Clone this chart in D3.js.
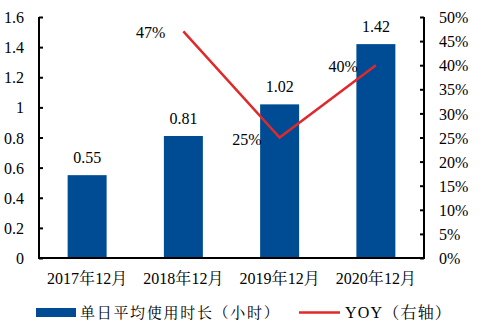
<!DOCTYPE html>
<html><head><meta charset="utf-8">
<script src="https://cdn.jsdelivr.net/npm/d3@7"></script>
<style>body{margin:0;background:#fff}svg{display:block}</style>
</head><body>
<script>
const categories = ["2017年12月","2018年12月","2019年12月","2020年12月"];
const hours = [0.55, 0.81, 1.02, 1.42];
const yoy = [null, 0.47, 0.25, 0.40];
const yoyLabels = ["", "47%", "25%", "40%"];
const leftTicks = [0,0.2,0.4,0.6,0.8,1,1.2,1.4,1.6];
const rightTicks = [0,0.05,0.1,0.15,0.2,0.25,0.3,0.35,0.4,0.45,0.5];
const seriesNames = ["单日平均使用时长（小时）","YOY（右轴）"];

const SERIF="'Liberation Serif'", CJK="'Noto Serif CJK SC','Noto Sans CJK SC'";
function richText(sel, str){
  sel.text(null);
  const parts=str.match(/[\u3000-\u9fff\uff00-\uffef]+|[^\u3000-\u9fff\uff00-\uffef]+/g)||[];
  parts.forEach(p=>{
    const cjk=/[\u3000-\u9fff\uff00-\uffef]/.test(p);
    sel.append("tspan").style("font-family",cjk?CJK:SERIF).text(p);
  });
}

const W=491,H=328;
const m={l:39,r:424,t:17,b:258};
const svg=d3.select("body").append("svg").attr("width",W).attr("height",H);
const x=d3.scaleBand().domain(categories).range([m.l,m.r]).padding(0);
const y=d3.scaleLinear().domain([0,1.6]).range([m.b,m.t]);
const y2=d3.scaleLinear().domain([0,0.5]).range([m.b,m.t]);
const barW=x.bandwidth()*0.405;
const blue="#004C94", red="#E0292B";
const cx=c=>x(c)+x.bandwidth()/2;

svg.selectAll("rect.bar").data(hours).enter().append("rect").attr("class","bar")
 .attr("x",(d,i)=>cx(categories[i])-barW/2)
 .attr("y",d=>y(d)).attr("width",barW).attr("height",d=>m.b-y(d)).attr("fill",blue);
svg.selectAll("text.bl").data(hours).enter().append("text").attr("class","bl")
 .attr("x",(d,i)=>cx(categories[i])).attr("y",d=>y(d)-12).style("font-family",SERIF)
 .attr("text-anchor","middle").style("font-size","16px").text(d=>d.toFixed(2));

const pts=yoy.map((v,i)=>({v,i})).filter(d=>d.v!=null);
const line=d3.line().x(d=>cx(categories[d.i])).y(d=>y2(d.v));
svg.append("path").datum(pts).attr("d",line).attr("fill","none").attr("stroke",red).attr("stroke-width",2.5);
svg.selectAll("text.pl").data(pts).enter().append("text").attr("class","pl")
 .attr("x",d=>cx(categories[d.i])-18).attr("y",d=>y2(d.v)+7).style("font-family",SERIF)
 .attr("text-anchor","end").style("font-size","16px").text(d=>yoyLabels[d.i]);

// axes
const la=svg.append("g").attr("transform",`translate(${m.l},0)`)
 .call(d3.axisLeft(y).tickValues(leftTicks).tickSize(-4).tickPadding(15).tickFormat(d=>d3.format("")(d)));
const ra=svg.append("g").attr("transform",`translate(${m.r},0)`)
 .call(d3.axisRight(y2).tickValues(rightTicks).tickSize(-4).tickPadding(15).tickFormat(d3.format(".0%")));
[la,ra].forEach(g=>{g.attr("font-family",null).attr("font-size",null);
 g.select(".domain").attr("stroke","#000").attr("stroke-width",2).attr("d",`M0,${m.t}V${m.b}`);
 g.selectAll(".tick line").attr("stroke","#000").attr("stroke-width",2);
 g.selectAll(".tick text").style("font-size","16px").style("font-family",SERIF).attr("fill","#000").attr("dy","0.35em");});
svg.append("line").attr("x1",m.l-1).attr("x2",m.r+1).attr("y1",m.b).attr("y2",m.b).attr("stroke","#000").attr("stroke-width",2);
svg.selectAll("text.xl").data(categories).enter().append("text").attr("class","xl")
 .attr("x",d=>cx(d)).attr("y",284).attr("text-anchor","middle").style("font-size","16px").style("font-family",SERIF)
 .each(function(d){richText(d3.select(this),d);});

// legend
svg.append("rect").attr("x",36).attr("y",308).attr("width",40).attr("height",9).attr("fill",blue);
svg.append("text").attr("x",80).attr("y",318).style("font-size","15px").attr("letter-spacing",1.7).style("font-family",SERIF)
 .each(function(){richText(d3.select(this),seriesNames[0]);});
svg.append("line").attr("x1",299).attr("x2",340).attr("y1",312.5).attr("y2",312.5).attr("stroke",red).attr("stroke-width",2.5);
svg.append("text").attr("x",345).attr("y",318).style("font-size","16px").attr("letter-spacing",1.2).style("font-family",SERIF)
 .each(function(){richText(d3.select(this),seriesNames[1]);});
</script>
</body></html>
